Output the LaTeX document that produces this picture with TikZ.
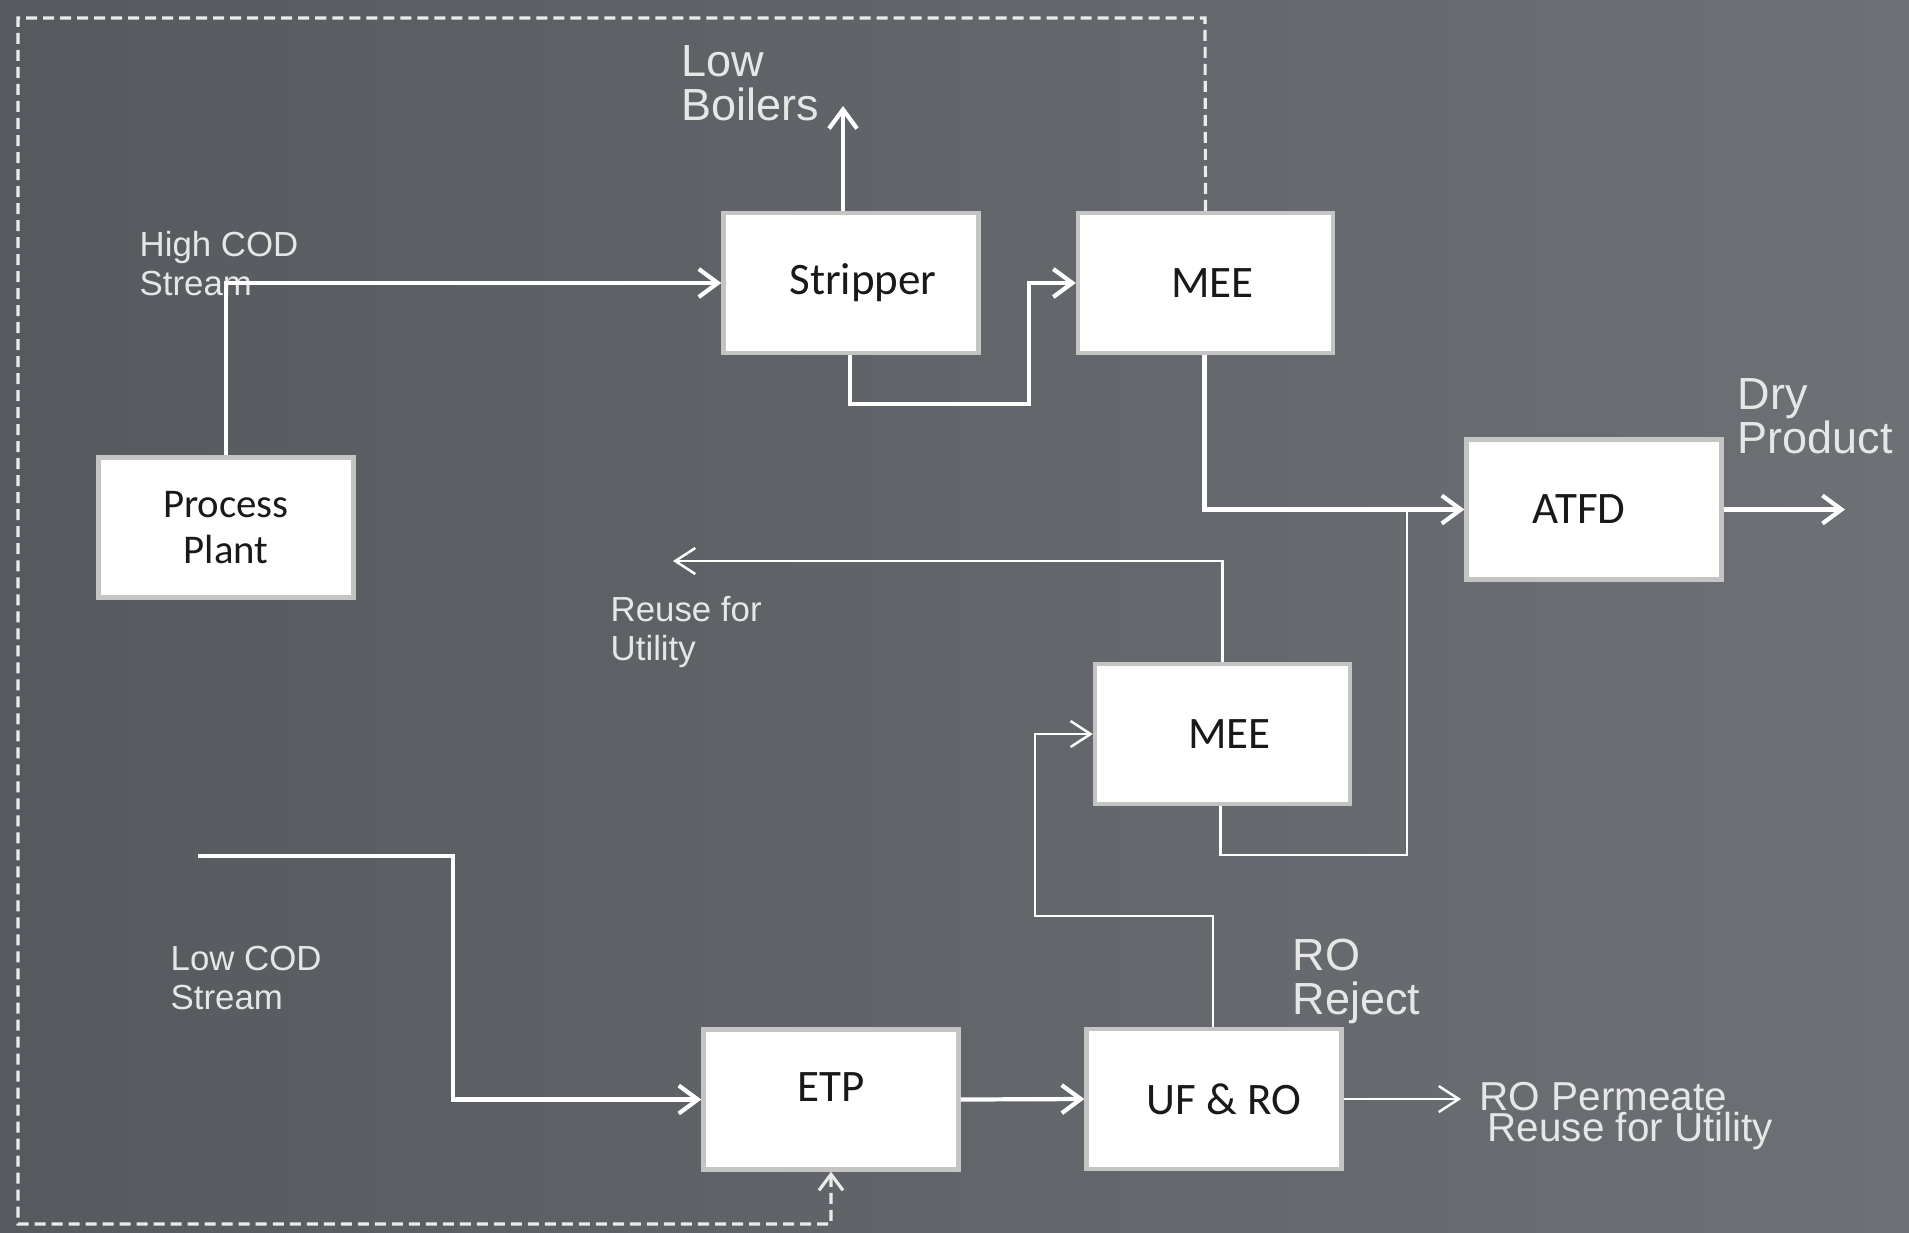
\documentclass[tikz,border=0pt]{standalone}
\usepackage{fontspec}
\setmainfont{Liberation Sans}
\newfontfamily\boxfont{Carlito}
\usetikzlibrary{arrows.meta,calc}
\definecolor{bgL}{HTML}{56595D}
\definecolor{bgR}{HTML}{6D7074}
\definecolor{lbl}{HTML}{E6E6E6}
\definecolor{boxedge}{HTML}{C4C4C4}
\tikzset{
  pbox/.style={draw=boxedge, line width=1.2pt, fill=white, minimum width=2.55cm, minimum height=1.40cm, inner sep=0pt, font=\boxfont\fontsize{12.8}{15.5}\selectfont, text=black!90, align=center},
  flow/.style={draw=white, line width=1.2pt, -{Straight Barb[length=0.19cm,width=0.28cm]}},
  thinflow/.style={draw=white, line width=0.7pt, -{Straight Barb[length=0.2cm,width=0.26cm]}},
  thinplain/.style={draw=white, line width=0.7pt},
  dashline/.style={draw=white!92!black, line width=0.9pt, dash pattern=on 0.11cm off 0.06cm},
  biglbl/.style={text=lbl, font=\fontsize{12.8}{12.5}\selectfont, align=left, inner sep=0pt, anchor=north west},
  smalllbl/.style={text=lbl, font=\fontsize{9.9}{11.1}\selectfont, align=left, inner sep=0pt, anchor=north west},
}
\begin{document}
\begin{tikzpicture}[x=0.01cm, y=-0.01cm]
\shade[left color=bgL, right color=bgR] (0,0) rectangle (1909,1232);
\useasboundingbox (0,0) rectangle (1909,1232);

% boxes
\node[pbox] (strip) at (851,283) {\hspace*{0.24cm}Stripper};
\node[pbox] (mee1) at (1205.5,283) {\hspace*{0.14cm}MEE};
\node[pbox, font=\boxfont\fontsize{11.6}{13}\selectfont] (pp) at (226,527.5) {Process\\Plant};
\node[pbox] (atfd) at (1594,509.5) {\hspace*{-0.3cm}ATFD};
\node[pbox] (mee2) at (1222.5,734) {\hspace*{0.14cm}MEE};
\node[pbox] (ufro) at (1214,1099) {\hspace*{0.2cm}UF \& RO};
\node[pbox] (etp) at (831,1099.5) {\raisebox{0.12cm}[\height][\depth]{ETP}};

% free ends
\coordinate (lowb) at (843,106);
\coordinate (dry) at (1845,509.5);
\coordinate (reuse) at (673,561);
\coordinate (lcs) at (198,856);
\coordinate (perm) at (1461,1099);
\coordinate (join) at (1407,509.5);

% labels
\node[smalllbl] (hcod) at (139,231) {High COD\\Stream};
\node[biglbl] (lbl1) at (681,45) {Low\\Boilers};
\node[biglbl] (lbl2) at (1737,378) {Dry\\Product};
\node[smalllbl] (lbl3) at (610,596) {Reuse for\\Utility};
\node[smalllbl] (lbl4) at (170,945) {Low COD\\Stream};
\node[biglbl] (lbl5) at (1292,938) {RO\\Reject};
\node[text=lbl, font=\fontsize{11.5}{8.6}\selectfont, align=left, inner sep=0pt, anchor=north west] (lbl6) at (1479,1082) {RO Permeate\\\hspace*{0.08cm}Reuse for Utility};

% connectors
\draw[flow] (pp.north) |- (strip.west);
\draw[flow] ([shift={(-8,0)}]strip.north) -- (lowb);
\draw[flow] ([shift={(-1,0)}]strip.south) |- (1029,404) |- (mee1.west);
\draw[flow] ([shift={(-1,0)}]mee1.south) |- (atfd.west);
\draw[flow] (atfd.east) -- (dry);
\draw[thinplain] ([shift={(-2,0)}]mee2.south) |- (1407,855) -- (join);
\draw[thinflow] (mee2.north) |- (reuse);
\draw[thinflow] ([shift={(-1,0)}]ufro.north) |- (1035,916) |- (mee2.west);
\draw[flow] (lcs) -- (453,856) |- (etp.west);
\draw[flow] (etp.east) -- (ufro.west);
\draw[thinflow] (ufro.east) -- (perm);
\draw[dashline, -{Straight Barb[length=0.16cm,width=0.24cm]}] (mee1.north) -- (1205,18) -- (18,18) -- (18,1224) -- (831,1224) -- (etp.south);
\end{tikzpicture}
\end{document}
